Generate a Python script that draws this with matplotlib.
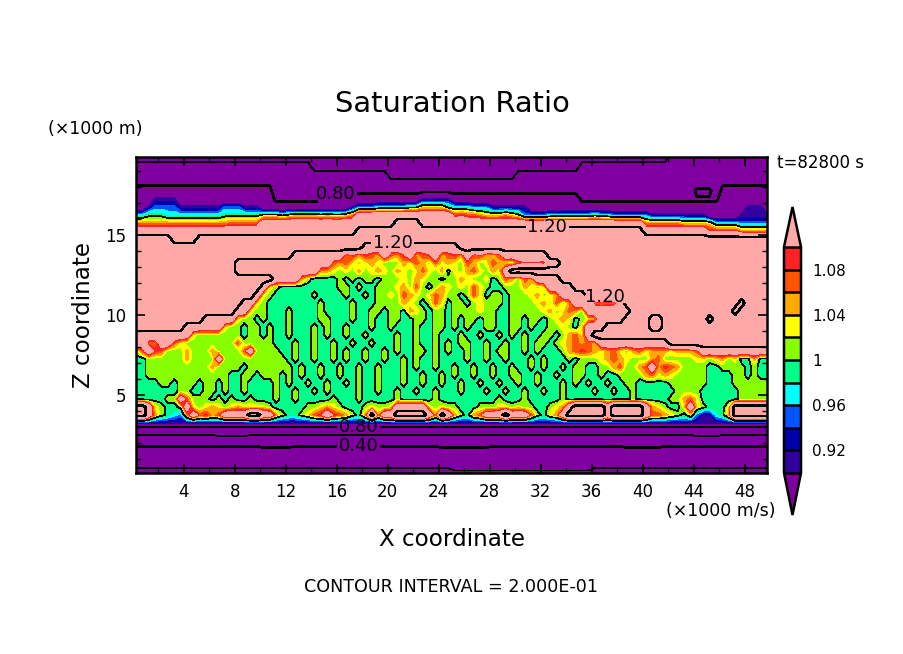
import numpy as np
import matplotlib
matplotlib.use("Agg")
import matplotlib.pyplot as plt
from matplotlib.ticker import MultipleLocator

# Saturation ratio, one letter per grid cell
code_values = {
    "w": 0.19, "x": 0.17, "y": 0.23, "z": 0.28, "a": 0.39, "A": 0.41, "b": 0.50, "B": 0.54,
    "c": 0.70, "C": 0.78, "d": 0.84, "e": 0.91, "f": 0.95, "g": 0.97, "h": 0.99, "i": 1.01,
    "j": 1.03, "k": 1.05, "l": 1.07, "m": 1.09, "n": 1.15, "o": 1.25,
}

# top row (z = 19.75 km) first, 100 columns of 0.5 km
sat_rows = [
    "bbbbbbbbbb bbbbbbbbbb bbbbbbbbbb bbbbbbbbbb bbbbbbbbbb bbbbbbbbbb bbbbbbbbbb bbbbbbbbbb bbbbcccccc cccccccccc",
    "cccccccccc cccccccccc ccccccccbb bbbbbbbbbb bbbbbbbbbb bbbbbbbbbb bbbbbbbbbb cccccccccc cccccccccc cccccccccc",
    "cccccccccc cccccccccc cccccccccc cccccccccc bbbbbbbbbb bbbbbbbbbb cccccccccc cccccccccc cccccccccc cccccccccc",
    "CCCCCCCCCC CCCCCCCCCC CCcccccccc cccccccccc cccccccccc cccccccccc cccccccccc cccccccccc cccccccccc ccCCCCCCCC",
    "dddddddddd dddddddddd ddcccccccc CCCCCCCCCC CCCCCCCCCC CCCCCCCCCC CCCCCCCCCC cccccccccc ccccccccdd dcdddddddd",
    "dddeeeeddd dddddddddd ddCCCCCCCC dddddddddd dddddeeeee dddddddddd dddddddddd CCCCCCCCCC CCCCCCCCCC CCdddddddd",
    "ddeffffeee eeeefffeee dddddddddd ddddefffgg ggghhjjjjh gggfffeeee eedddddddd dddddddddd dddddddddd ddddddeeed",
    "gghhhggggg gggghhhhhh iiihijjjji jiijknnnnn nnnnnnnnnn lmllkjjjkj iffffggggg gghggfffff feeeeeeeee dddddeeeee",
    "kkkkkkkkkk kkkkklllll nnnnnnnnnn nnnnnnnnnn noooonnnnn nnnnnnnnnn nnnnnnnnnn nnnnnnnnnn kkkkkkjjjj jggggfffff",
    "nnnnnnnnnn nnnnnnnnnn nnnnnnnnnn nnnnnooooo oooooooooo oooooooooo oooooooooo oooooooooo nnnnnnnnnn mmmmmkkkkk",
    "oooooonnnn oooooooooo oooooooooo oooooooooo oooooooooo oooooooooo oooooooooo oooooooooo oooooooooo oooooooooo",
    "oooooooooo oooooooooo oooooooooo oooooonnnn nnnnnnnnnn nooooooooo oooooooooo oooooooooo oooooooooo oooooooooo",
    "oooooooooo oooooooooo ooooonnnnn nnnlmkmlkn lkmnklmnkl mknlmkklnn nnnnnooooo oooooooooo oooooooooo oooooooooo",
    "oooooooooo oooooonnnn nnnnnnnnnn nlkljijkji iikjlkiljk jilkijlkji lmmmlnnooo oooooooooo oooooooooo oooooooooo",
    "oooooooooo oooooonnnn nnnnnnnnnk kjijikijkj ikjijljikh jikljikjno oooooooooo oooooooooo oooooooooo oooooooooo",
    "oooooooooo oooooooooo oonnnnkihh hhihihiihi iijikjiihi ikjiijhilk ilknnnnooo oooooooooo oooooooooo oooooooooo",
    "oooooooooo oooooooooo njihhhhhhh hhiihihhii ijkilihikj ijiljihhii ikjijnnnno oooooooooo oooooooooo oooooooooo",
    "oooooooooo ooooooooon jihhhhhhih hhhihhihii jilkjijlki ihiljhiihi iijkijknnn nooooooooo oooooooooo oooooooooo",
    "oooooooooo ooooooonnj ihhhhhhhhi hhhhihhhii iikjihiljh iihijiiihi iiijkilikn nnlklknooo oooooooooo ooooonoooo",
    "oooooooooo oooooonnji ihhhihhhhi hhhhihhiih iihkjihiih iiiijiihhi iiiijkijlk innnnnnnoo oooooooooo oooonooooo",
    "oooooooooo onnnnnjiih ihhhihhhhi ihhhihhihh iihhiihiih ihiihiihhi ihiihijkjh ijknnnnooo onnooooooo nooooooooo",
    "oooooooonn nnnnjiihii hihhihhhih ihhihhhihh ihhhihhiih ihihhiihhi ihihhiijih jnnnoooooo onnooooooo oooooooooo",
    "nnnnnnnnnj iiiiiiihii hihhihhhih ihhihhihhh hihhihhihh hihhihhihi hihhiihikl jnoooooooo oooooooooo oooooooooo",
    "nnlknnljii iiiiiiliii iihhhihhih hihhihhihh hihhihhihi hiihhihhih hihiihijkl klknnnnnnn nnnnoooooo oooooooooo",
    "ilnmliiiki iikiiiilni iiihhihhih hihihhihhi hihhiihihi hhihhihiih hihihhhikl mlkjkljikl jkkkjkkkln nnnnnnnnnn",
    "hhiiiiiiki iiiniiiiii iiiihihhih hihihhihhi hhihihhihh hhihhihhih hhihihhhih iiijklkjii ikliiiiijj ijkijhhkhh",
    "hhiiiiiiii iikiiiihii iiiiihihhi hhihhihhih hhihihhihh ihhihhihhi hhihihhihi ihhiikliik lnkmlkiiii hhiiiihihh",
    "hhiiiiiiii iiiiihhiih iiihihihhi hhihhihhih hhihhihhih ihhihhihhi ihhihhihhi ihhihhiiii kljkjiiiii hhhhiihihh",
    "hhhhiihiii hiihihhihh hhihihhihh ihhihihhih hhihhihhih hihhihhihh ihhihhhihi hihhihhiih hhhhiiiiii hhhhiiiiii",
    "hhhhhhhiih hiihihhihh hhihhihhih ihhhhihhih hihhihhihh hihhhihhih hihhihhihh hhihhihhih hhhhhiiiih hhhhhiiiii",
    "hhhhhiinli iihihihhih hhihhihhhh hihhhihhhh hihhhhhihh hhhhhhhihh hihhhhhihh hhhhhhhhih hhhhiikljh hhhhhiiiii",
    "oonjihhinj ijkjijkjjj jihhhhhiij kjihhhijii jnnnnnjiji ihhhiiijji jiihhijkno oooonooooo nkjihhjnji hhhjoooooo",
    "oonkihgfkn lmklnnnnoo nnkihhijlm nmlkihkokn nooooonkon kihklnnnon nnlihjknoo oooonooooo nllkjihjfe eghkoooooo",
    "e" * 100,
    "c" * 100,
    "bbbbbbbbbb bbbBBBBBbb bbbbbbbbbb bbbbbbbbbb bbbbbbbbbb bbbbbbbbbb bbbbbbbbbb bbbbbbbbbb bbbbbbbbBB BBbbbbbbbb",
    "aaaaaaaaaa aaaaaaaaaa AAAAAaaaaa aaaaaaaaaa aaaaaaaaAA AAAAAAaaaa aaaaaaaaaa aaaaaaaAAA AAAaaaaaaa aaaaaaaaaa",
    "z" * 100,
    "y" * 100,
    "xxxxxxxxxx xxxxxxxxxx xxxxxxxxxx xxxxxxxxxx xxxxxxxxxx wwwwwwwwww wwwwwwwwww wwxxxxxxxx xxxxxxxxxx xxxxxxxxxx",
]

sat_ratio = np.array([[code_values[ch] for ch in row.replace(" ", "")] for row in sat_rows[::-1]])

x_km = np.arange(0.25, 50, 0.5)
z_km = np.arange(0.25, 20, 0.5)
z_km[0] = 0.125
z_km[-1] = 19.875

fill_levels = [0.90, 0.92, 0.94, 0.96, 0.98, 1.00, 1.02, 1.04, 1.06, 1.08, 1.10]
line_levels = [0.2, 0.4, 0.6, 0.8, 1.0, 1.2]
line_widths = [0.5, 1.1, 0.5, 1.1, 0.5, 1.1]
band_colors = ["#3300A0", "#0000A8", "#0055FF", "#00FFFF", "#00FF88",
               "#88FF00", "#FFFF00", "#FFAA00", "#FF5500", "#FF2222"]
under_color = "#7F009F"
over_color = "#FFA8A8"
cbar_ticks = [0.92, 0.96, 1.00, 1.04, 1.08]
cbar_labels = ["0.92", "0.96", "1", "1.04", "1.08"]

W, H = 904, 654


def box(left, top, right, bottom):
    return [left / W, 1 - bottom / H, (right - left) / W, (bottom - top) / H]


def label(px, py, s, **kw):
    fig.text(px / W, 1 - py / H, s, ha="center", va="center", **kw)


fig = plt.figure(figsize=(9.04, 6.54), dpi=100)
ax = fig.add_axes(box(136, 157, 767, 473))

cmap = matplotlib.colors.ListedColormap(band_colors)
cmap.set_under(under_color)
cmap.set_over(over_color)
norm = matplotlib.colors.BoundaryNorm(fill_levels, cmap.N)

cf = ax.contourf(x_km, z_km, sat_ratio, levels=fill_levels, cmap=cmap, norm=norm, extend="both")
cs = ax.contour(x_km, z_km, sat_ratio, levels=line_levels, colors="k",
                linewidths=line_widths, linestyles="solid", antialiased=False)

ax.set_xlim(0.25, 49.75)
ax.set_ylim(0.125, 19.875)

labels = ax.clabel(cs, fmt="%.2f", fontsize=13, inline=True, inline_spacing=2,
                   manual=[(15.9, 17.75), (32.5, 15.4), (20.4, 14.3), (37.0, 10.4), (17.7, 2.9), (17.7, 1.75)])
for t in labels:
    t.set_rotation(0)
    t.set_color("k")

ax.set_xticks(np.arange(4, 49, 4))
ax.set_yticks([5, 10, 15])
ax.xaxis.set_minor_locator(MultipleLocator(2))
ax.yaxis.set_minor_locator(MultipleLocator(1))
ax.tick_params(which="major", direction="in", length=6.5, width=1.2, top=True, right=True, labelsize=12, pad=7)
ax.tick_params(which="minor", direction="in", length=3.5, width=1.0, top=True, right=True)
for side in ax.spines.values():
    side.set_linewidth(1.8)

cax = fig.add_axes(box(784, 207, 801, 515))
cb = fig.colorbar(cf, cax=cax, extend="both", extendfrac=[0.186, 0.177], drawedges=True)
cb.set_ticks(cbar_ticks)
cb.set_ticklabels(cbar_labels)
cb.ax.minorticks_off()
cb.ax.tick_params(length=0, labelsize=11, pad=8)
cb.outline.set_linewidth(1.8)
cb.dividers.set_linewidth(1.8)

label(452, 104, "Saturation Ratio", fontsize=20.8)
label(95, 129, "(×1000 m)", fontsize=12.5)
label(821, 163, "t=82800 s", fontsize=12)
label(721, 511, "(×1000 m/s)", fontsize=12.5)
label(452, 539, "X coordinate", fontsize=16.6)
label(83, 315, "Z coordinate", fontsize=16.6, rotation=90)
label(451, 587, "CONTOUR INTERVAL = 2.000E-01", fontsize=12.6)

fig.savefig("out.png", dpi=100)
